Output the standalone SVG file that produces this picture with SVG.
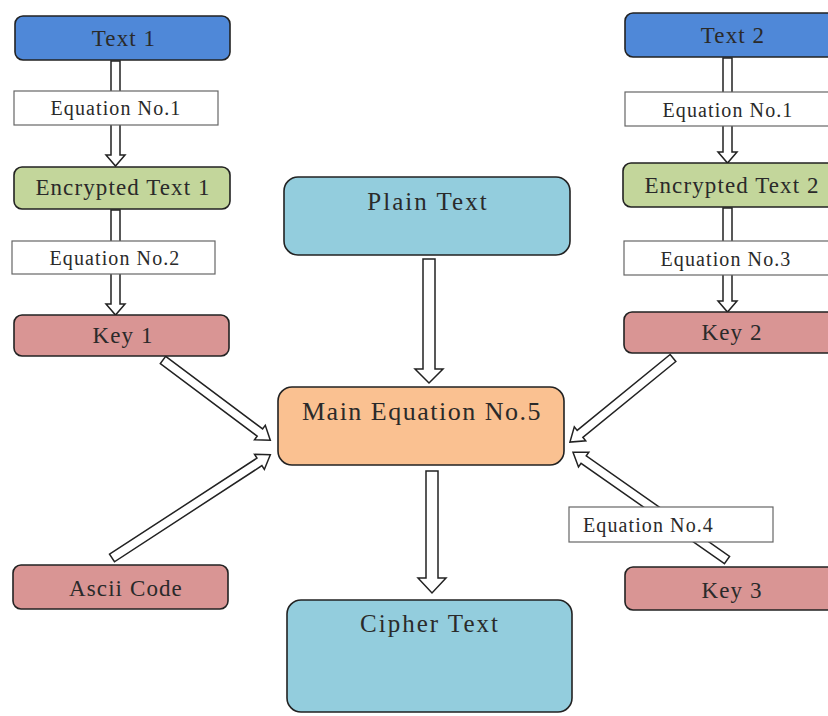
<svg xmlns="http://www.w3.org/2000/svg" width="828" height="716" viewBox="0 0 828 716">
<style>
.n{stroke:#222;stroke-width:1.6}
.blue{fill:#4f88d8}.green{fill:#c3d69b}.red{fill:#d99594}.lb{fill:#93cddd}.or{fill:#fac191}
.eq{fill:#fff;stroke:#666;stroke-width:1.2}
.arr{fill:#fff;stroke:#222;stroke-width:1.5;stroke-linejoin:miter}
text{font-family:"Liberation Serif","Times New Roman",serif;fill:#2a2a2a;text-anchor:middle}
.t20{font-size:23px;letter-spacing:1.1px}.t17{font-size:20px;letter-spacing:1.1px}.t23{font-size:25px;letter-spacing:2px}.t25{font-size:26px;letter-spacing:1.5px}
</style>
<rect width="828" height="716" fill="#fff"/>
<g id="connectors">
<polygon class="arr" points="111,61 120,61 120,155 125,155 115.5,166 106,155 111,155"/>
<polygon class="arr" points="111,210 120,210 120,304 125,304 115.5,315 106,304 111,304"/>
<polygon class="arr" points="723,58 732,58 732,152 737,152 727.5,163 718,152 723,152"/>
<polygon class="arr" points="723,208 732,208 732,301 737,301 727.5,312 718,301 723,301"/>
<polygon class="arr" points="423,259 435,259 435,369 443,369 429,383 415,369 423,369"/>
<polygon class="arr" points="426,471 438,471 438,578 446,578 432,593 418,578 426,578"/>
<polygon class="arr" transform="translate(163,360) rotate(36.8)" points="0,-4.5 121,-4.5 121,-9 134,0 121,9 121,4.5 0,4.5"/>
<polygon class="arr" transform="translate(112,558) rotate(-33.1)" points="0,-4.5 176,-4.5 176,-9 189,0 176,9 176,4.5 0,4.5"/>
<polygon class="arr" transform="translate(673,358) rotate(140.8)" points="0,-4.5 120,-4.5 120,-9 133,0 120,9 120,4.5 0,4.5"/>
<polygon class="arr" transform="translate(727,560) rotate(-145)" points="0,-4.5 175,-4.5 175,-9 188,0 175,9 175,4.5 0,4.5"/>
</g>
<g id="eq1a"><rect class="eq" x="14" y="91" width="204" height="34"/><text class="t17" x="116" y="115">Equation No.1</text></g>
<g id="eq2"><rect class="eq" x="12" y="241" width="203" height="33"/><text class="t17" x="115" y="265">Equation No.2</text></g>
<g id="eq1b"><rect class="eq" x="625" y="92" width="205" height="34"/><text class="t17" x="728" y="117">Equation No.1</text></g>
<g id="eq3"><rect class="eq" x="624" y="241" width="206" height="34"/><text class="t17" x="726" y="266">Equation No.3</text></g>
<g id="eq4"><rect class="eq" x="569" y="507" width="204" height="35"/><text class="t17" x="583" y="532" style="text-anchor:start">Equation No.4</text></g>
<g id="text1"><rect class="n blue" x="15" y="16" width="215" height="44" rx="8"/><text class="t20" x="124" y="46">Text 1</text></g>
<g id="enc1"><rect class="n green" x="14" y="167" width="216" height="42" rx="8"/><text class="t20" x="123" y="195">Encrypted Text 1</text></g>
<g id="key1"><rect class="n red" x="14" y="315" width="215" height="41" rx="8"/><text class="t20" x="123" y="343">Key 1</text></g>
<g id="text2"><rect class="n blue" x="625" y="13" width="215" height="44" rx="8"/><text class="t20" x="733" y="43">Text 2</text></g>
<g id="enc2"><rect class="n green" x="623" y="163" width="217" height="44" rx="8"/><text class="t20" x="732" y="193">Encrypted Text 2</text></g>
<g id="key2"><rect class="n red" x="624" y="312" width="216" height="41" rx="8"/><text class="t20" x="732" y="340">Key 2</text></g>
<g id="plain"><rect class="n lb" x="284" y="177" width="286" height="78" rx="14"/><text class="t23" x="428" y="210">Plain Text</text></g>
<g id="main"><rect class="n or" x="278" y="387" width="286" height="78" rx="14"/><text class="t25" x="422" y="420">Main Equation No.5</text></g>
<g id="cipher"><rect class="n lb" x="287" y="600" width="285" height="112" rx="14"/><text class="t23" x="430" y="632">Cipher Text</text></g>
<g id="ascii"><rect class="n red" x="13" y="565" width="215" height="44" rx="8"/><text class="t20" x="126" y="596">Ascii Code</text></g>
<g id="key3"><rect class="n red" x="625" y="567" width="215" height="43" rx="8"/><text class="t20" x="732" y="598">Key 3</text></g>
</svg>
